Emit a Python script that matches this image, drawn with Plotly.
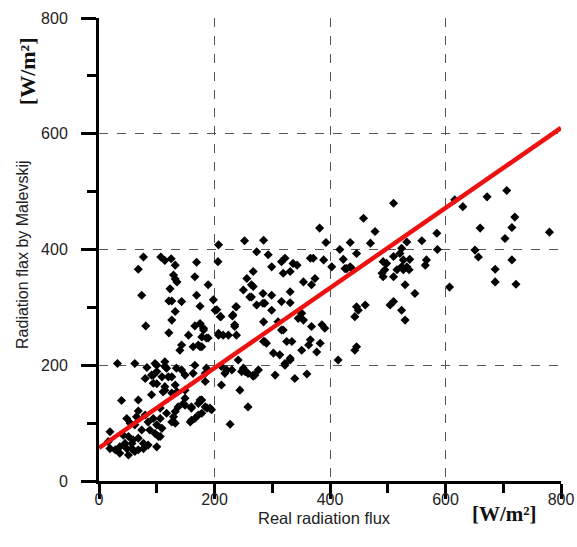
import plotly.graph_objects as go

# Scatter points: (real flux, flux by Malevskij)
pts = [
(77,387),(68,366),(74,321),(81,268),(32,203),(62,203),(107,387),(114,381),(125,384),(132,373),(129,356),(132,349),(135,344),(123,332),(121,311),(126,311),(143,310),(132,293),(126,278),(121,256),(169,378),(166,353),(169,321),(175,302),(166,268),(155,252),(143,235),(140,226),(163,232),(175,232),(178,249),(83,196),(100,200),(114,198),(100,189),(134,195),(166,200),(91,183),(109,180),(120,180),
(39,139),(68,140),(91,149),(100,168),(114,163),(132,166),(126,152),(111,154),(149,157),(146,134),(160,126),(172,134),(178,117),(160,105),(166,108),(137,128),(132,120),(117,117),(106,126),(68,121),(65,111),(80,114),(48,108),(54,100),(62,97),(85,102),(94,108),(106,108),(100,97),(88,88),(74,88),(126,102),(129,111),(109,91),(106,77),(100,59),(97,82),(19,85),(16,68),(42,79),(51,77),(59,71),(68,74),(77,65),(85,62),(36,59),(48,56),(57,56),(68,54),(77,56),(28,54),(19,56),(36,48),(51,45),(62,51),(57,65),(45,65),
(181,264),(189,247),(207,252),(215,252),(224,252),(235,267),(238,252),(97,203),(114,206),(117,195),(143,192),(94,183),(80,177),(126,180),(149,183),(163,186),(94,169),(114,157),(135,154),(184,186),(184,172),(149,143),(149,131),(160,128),(178,140),(172,114),(158,102),(187,126),(195,123),(212,198),(221,192),(230,192),(241,209),(247,189),(258,186),(267,183),(212,166),(244,157),(258,128),(227,98),(103,77),(132,100),
(238,301),(287,307),(316,310),(331,308),(204,296),(210,284),(232,287),(235,270),(207,255),(285,275),(299,295),(310,275),(319,261),(345,281),(287,241),(325,241),(302,221),(313,218),(322,203),(331,212),(339,177),(351,226),(305,183),(276,192),(270,183),(253,189),(250,195),(218,186),(175,272),(181,261),(186,247),(172,235),(178,232),(186,195),(175,140),(192,126),(184,128),
(510,480),(458,454),(478,431),(470,411),(435,412),(382,437),(393,412),(285,416),(273,396),(293,391),(322,385),(316,379),(336,376),(343,373),(366,385),(371,385),(389,382),(403,370),(417,400),(423,383),(435,370),(426,367),(446,393),(492,379),(510,388),(521,393),(527,365),(533,370),(510,353),(530,339),(492,353),(267,362),(299,370),(319,359),(331,362),(374,350),(368,339),(354,344),(267,336),(264,318),(284,324),(299,321),(331,327),(284,307),(273,304),(316,261),(351,290),(354,278),(368,267),(386,270),(391,264),(383,238),(366,244),(363,235),(377,223),(334,241),(290,238),(285,241),(331,209),(322,200),(360,185),(267,181),(414,209),(446,232),(443,226),(446,301),(449,295),(443,284),(461,304),(504,304),(510,310),(524,295),(530,278),(429,367),(440,365),(490,359),(495,365),(498,376),(516,365),(524,370),(527,382),
(706,502),(672,491),(630,474),(616,486),(720,456),(715,438),(703,419),(660,437),(780,430),(651,399),(657,387),(686,366),(686,344),(715,382),(722,340),(607,335),(585,428),(586,400),(559,415),(567,382),(565,373),(538,383),(537,365),(547,324),(533,413),(524,402),
(207,408),(252,415),(206,379),(256,350),(250,330),(264,339),(261,318),(189,339),(198,313),(201,295),(211,284),(231,285),(237,301),
]
real_flux = [p[0] for p in pts]
malevskij_flux = [p[1] for p in pts]

# Regression line end points
line_x = [0, 800]
line_y = [57, 610]

tick_vals = [0, 200, 400, 600, 800]

fig = go.Figure()
fig.add_trace(go.Scatter(x=real_flux, y=malevskij_flux, mode="markers",
                         marker=dict(symbol="diamond", size=7, color="black"),
                         showlegend=False, cliponaxis=False))
fig.add_trace(go.Scatter(x=line_x, y=line_y, mode="lines",
                         line=dict(color="#ee1111", width=4.5),
                         showlegend=False, cliponaxis=False))

axis_common = dict(
    range=[0, 800], tickvals=tick_vals, ticktext=[str(v) for v in tick_vals],
    automargin=False,
    showline=True, linewidth=3, linecolor="black",
    ticks="outside", ticklen=15, tickwidth=3, tickcolor="black",
    showgrid=True, gridcolor="#555555", griddash="dash", gridwidth=1,
    zeroline=False,
    tickfont=dict(family="Liberation Sans, Arial", size=16, color="#222222"),
    minor=dict(dtick=100, tick0=0, ticks="outside", ticklen=9, tickwidth=3,
               tickcolor="black", showgrid=False),
    fixedrange=True,
)

fig.update_layout(
    width=577, height=547,
    margin=dict(l=99, r=16, t=18, b=66),
    plot_bgcolor="white", paper_bgcolor="white",
    xaxis=dict(**axis_common, ticklabelstandoff=-13),
    yaxis=dict(**axis_common, ticklabelstandoff=10),
    annotations=[
        dict(text="Real radiation flux", xref="paper", yref="paper",
             x=0.489, y=-0.079, showarrow=False, xanchor="center", yanchor="middle",
             font=dict(family="Liberation Sans, Arial", size=16.5, color="#222222")),
        dict(text="<b>[W/m²]</b>", xref="paper", yref="paper",
             x=0.877, y=-0.072, showarrow=False, xanchor="center", yanchor="middle",
             font=dict(family="Liberation Serif, Times New Roman", size=21, color="#111111")),
        dict(text="Radiation flax by Malevskij", xref="paper", yref="paper",
             x=-0.167, y=0.49, showarrow=False, xanchor="center", yanchor="middle",
             textangle=-90,
             font=dict(family="Liberation Sans, Arial", size=16, color="#222222")),
        dict(text="<b>[W/m²]</b>", xref="paper", yref="paper",
             x=-0.156, y=0.885, showarrow=False, xanchor="center", yanchor="middle",
             textangle=-90,
             font=dict(family="Liberation Serif, Times New Roman", size=22, color="#111111")),
    ],
)

fig.write_html("out.html")
